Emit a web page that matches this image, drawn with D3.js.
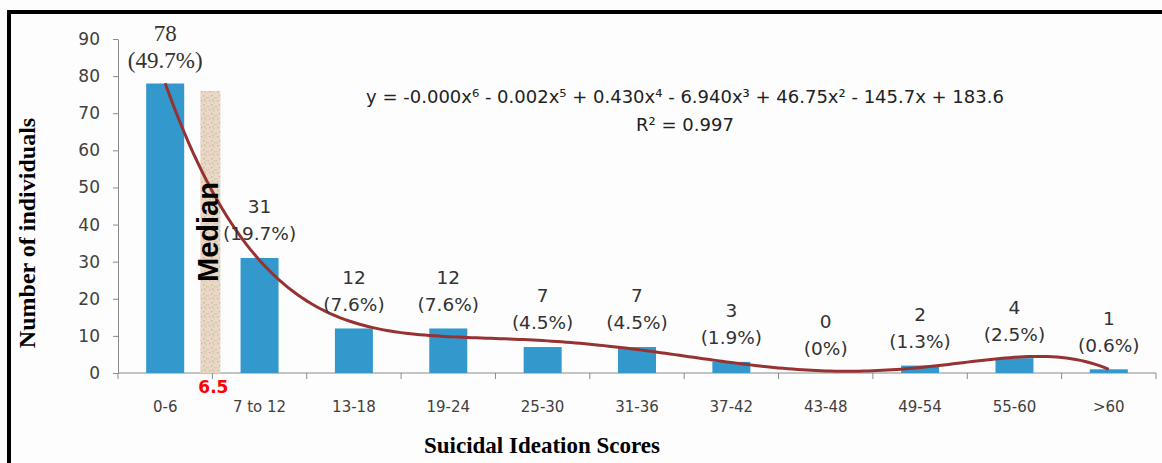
<!DOCTYPE html>
<html><head><meta charset="utf-8">
<script src="https://cdn.jsdelivr.net/npm/d3@7"></script>
<style>
html,body{margin:0;padding:0;background:#fdfdfd;}
svg{display:block;}
</style></head>
<body>
<svg id="chart" width="1162" height="463"></svg>
<script>
// ---- data ----
const categories = ["0-6","7 to 12","13-18","19-24","25-30","31-36","37-42","43-48","49-54","55-60",">60"];
const counts = [78,31,12,12,7,7,3,0,2,4,1];
const percents = ["49.7%","19.7%","7.6%","7.6%","4.5%","4.5%","1.9%","0%","1.3%","2.5%","0.6%"];
const yTicks = [0,10,20,30,40,50,60,70,80,90];
const medianValue = 6.5;
const medianBarHeight = 76;
const equationText = "y = -0.000x\u2076 - 0.002x\u2075 + 0.430x\u2074 - 6.940x\u00B3 + 46.75x\u00B2 - 145.7x + 183.6";
const r2Text = "R\u00B2 = 0.997";
const yTitle = "Number of individuals";
const xTitle = "Suicidal Ideation Scores";

// ---- layout ----
const svg = d3.select("#chart");
const W = 1162, H = 463;
const plot = {left:118, right:1156, top:39, bottom:373};

const xOuter = d3.scaleBand().domain(categories).range([plot.left, plot.right]);
const y = d3.scaleLinear().domain([0,90]).range([plot.bottom, plot.top]);

svg.append("rect").attr("x",0).attr("y",0).attr("width",W).attr("height",H).attr("fill","#fdfdfd");
svg.append("line").attr("x1",7).attr("x2",W).attr("y1",12).attr("y2",12).attr("stroke","#000").attr("stroke-width",4);
svg.append("line").attr("x1",9).attr("x2",9).attr("y1",10).attr("y2",H).attr("stroke","#000").attr("stroke-width",4);

const sansFont = "'DejaVu Sans', Verdana, sans-serif";
const serifFont = "'Liberation Serif', 'DejaVu Serif', serif";

// pattern for median bar
const defs = svg.append("defs");
const pat = defs.append("pattern").attr("id","medPat").attr("patternUnits","userSpaceOnUse")
  .attr("width",8).attr("height",9);
pat.append("rect").attr("width",8).attr("height",9).attr("fill","#ecd6c6");
[[1,1,"#c3c49a"],[5,2,"#d4cbab"],[3,5,"#b9c295"],[6,7,"#cbc8a3"],[0,7,"#d2ceae"],[4,0,"#c0c6a0"]].forEach(p=>{
  pat.append("rect").attr("x",p[0]).attr("y",p[1]).attr("width",1.5).attr("height",1.5).attr("fill",p[2]);
});

// y axis
const yAxis = d3.axisLeft(y).tickValues(yTicks).tickSize(5).tickSizeOuter(0).tickPadding(13);
const gy = svg.append("g").attr("transform",`translate(${plot.left},0)`).call(yAxis);
gy.select(".domain").attr("stroke","#8a8a8a");
gy.selectAll(".tick line").attr("stroke","#8a8a8a");
gy.selectAll(".tick text").attr("fill","#404040").style("font-family",sansFont).style("font-size","17px");

// x axis: ticks at category boundaries
const gx = svg.append("g").attr("transform",`translate(0,${plot.bottom})`);
gx.append("line").attr("x1",plot.left).attr("x2",plot.right).attr("y1",0).attr("y2",0).attr("stroke","#8a8a8a");
const bounds = categories.map(c=>xOuter(c)).concat([plot.right]);
gx.selectAll("line.tk").data(bounds).join("line").attr("class","tk")
  .attr("x1",d=>d).attr("x2",d=>d).attr("y1",0).attr("y2",6).attr("stroke","#8a8a8a");
gx.selectAll("text").data(categories).join("text")
  .attr("x",d=>xOuter(d)+xOuter.bandwidth()/2).attr("y",34).attr("dy","0.35em")
  .attr("text-anchor","middle").attr("fill","#404040")
  .style("font-family",sansFont).style("font-size","15px").text(d=>d);

// bars
svg.append("g").selectAll("rect").data(categories).join("rect")
  .attr("x",(d)=>xOuter(d)+xOuter.bandwidth()/2 - 19)
  .attr("width",38)
  .attr("y",(d,i)=>y(counts[i]))
  .attr("height",(d,i)=>y(0)-y(counts[i]))
  .attr("fill","#3399cc");

// median bar at the boundary between first two categories (score 6.5)
const medX = xOuter(categories[1]) - 2;
svg.append("rect").attr("x",medX-10).attr("width",20)
  .attr("y",y(medianBarHeight)).attr("height",y(0)-y(medianBarHeight))
  .attr("fill","url(#medPat)");

// polynomial (6th order) least-squares trendline computed from the counts
function polyfit(xs, ys, deg){
  const n = deg+1;
  const A = Array.from({length:n},()=>new Array(n).fill(0));
  const b = new Array(n).fill(0);
  xs.forEach((xv,k)=>{
    const pw=[1]; for(let j=1;j<2*n;j++) pw.push(pw[j-1]*xv);
    for(let r=0;r<n;r++){ b[r]+=pw[r]*ys[k]; for(let c=0;c<n;c++) A[r][c]+=pw[r+c]; }
  });
  for(let i=0;i<n;i++){
    let p=i; for(let r=i+1;r<n;r++) if(Math.abs(A[r][i])>Math.abs(A[p][i])) p=r;
    [A[i],A[p]]=[A[p],A[i]]; [b[i],b[p]]=[b[p],b[i]];
    for(let r=i+1;r<n;r++){ const f=A[r][i]/A[i][i]; for(let c=i;c<n;c++) A[r][c]-=f*A[i][c]; b[r]-=f*b[i]; }
  }
  const co=new Array(n).fill(0);
  for(let i=n-1;i>=0;i--){ let s=b[i]; for(let c=i+1;c<n;c++) s-=A[i][c]*co[c]; co[i]=s/A[i][i]; }
  return co;
}
const xsIdx = counts.map((d,i)=>i+1);
const tNorm = v => (v-6)/5;
const coef = polyfit(xsIdx.map(tNorm), counts, 6);
const evalPoly = v => { const t=tNorm(v); let s=0, p=1; coef.forEach(c=>{s+=c*p; p*=t;}); return s; };
const xPos = d3.scaleLinear().domain([1, categories.length])
  .range([xOuter(categories[0])+xOuter.bandwidth()/2, xOuter(categories[categories.length-1])+xOuter.bandwidth()/2]);
const samples = d3.range(1, categories.length+0.0001, 0.05);
svg.append("path").datum(samples)
  .attr("d", d3.line().x(v=>xPos(v)).y(v=>y(evalPoly(v))))
  .attr("fill","none").attr("stroke","#963232").attr("stroke-width",3);

// Median label
svg.append("text").attr("transform",`translate(${medX+8},${y(38)}) rotate(-90)`)
  .attr("text-anchor","middle").attr("fill","#000")
  .style("font-family","'Liberation Sans', Arial, sans-serif").style("font-weight","bold").style("font-size","29px")
  .text("Median");
svg.append("text").attr("x",medX+3).attr("y",y(0)+8).attr("dy","0.72em").attr("text-anchor","middle")
  .attr("fill","#ff0000").style("font-family","'DejaVu Sans', sans-serif")
  .style("font-weight","bold").style("font-size","17px").text(String(medianValue));

// data labels
const lbl = svg.append("g");
categories.forEach((c,i)=>{
  const cx = xOuter(c)+xOuter.bandwidth()/2;
  const top = y(counts[i]);
  const f = i===0 ? serifFont : sansFont;
  const fs = i===0 ? "23px" : "18.5px";
  lbl.append("text").attr("x",cx).attr("y",top-51).attr("dy","0.35em").attr("text-anchor","middle")
    .attr("fill","#333").style("font-family",f).style("font-size",fs).text(counts[i]);
  lbl.append("text").attr("x",cx).attr("y",top-24).attr("dy","0.35em").attr("text-anchor","middle")
    .attr("fill","#333").style("font-family",f).style("font-size",fs).text("("+percents[i]+")");
});

// equation
svg.append("text").attr("x",685).attr("y",97).attr("dy","0.35em").attr("text-anchor","middle")
  .attr("fill","#222").style("font-family",sansFont).style("font-size","18px").text(equationText);
svg.append("text").attr("x",685).attr("y",125).attr("dy","0.35em").attr("text-anchor","middle")
  .attr("fill","#222").style("font-family",sansFont).style("font-size","18px").text(r2Text);

// axis titles
svg.append("text").attr("transform",`translate(35,233) rotate(-90)`)
  .attr("text-anchor","middle").attr("fill","#000")
  .style("font-family",serifFont).style("font-weight","bold").style("font-size","24px").text(yTitle);
svg.append("text").attr("x",542).attr("y",453).attr("text-anchor","middle").attr("fill","#000")
  .style("font-family",serifFont).style("font-weight","bold").style("font-size","23px").text(xTitle);
</script>
</body></html>
